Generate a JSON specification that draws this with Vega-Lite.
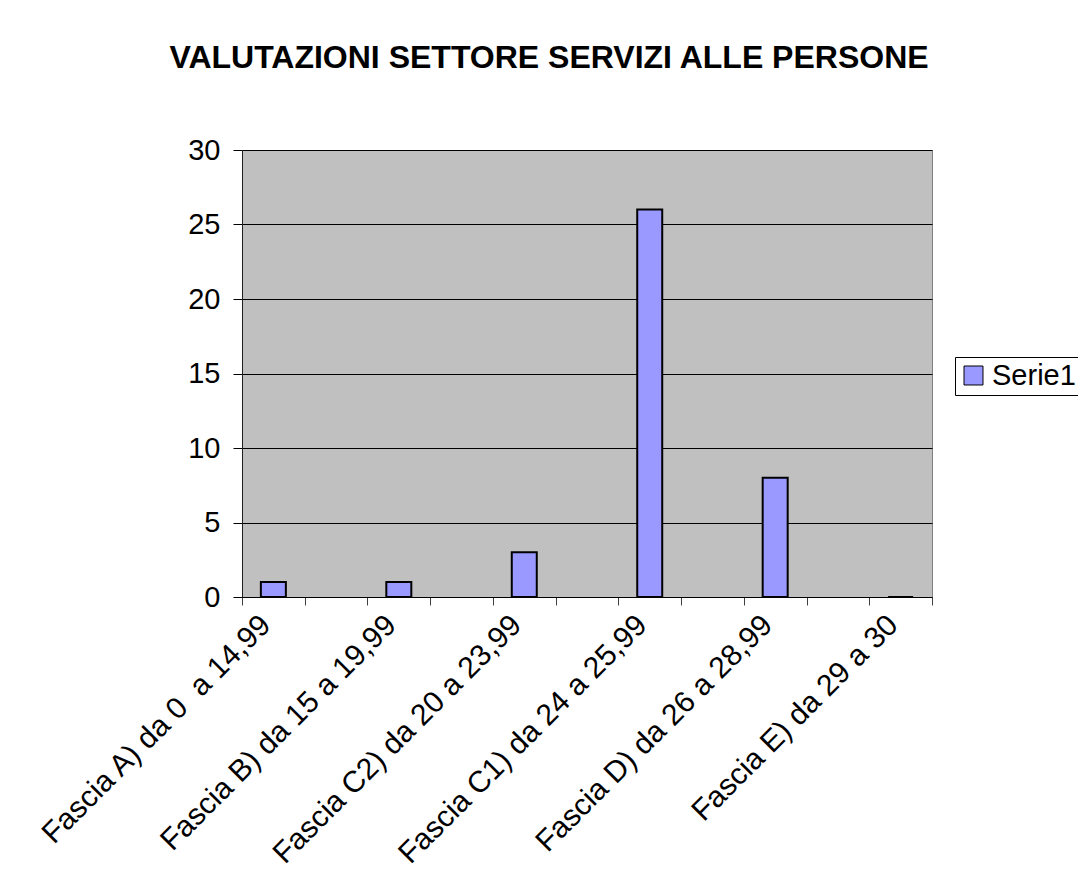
{
  "$schema": "https://vega.github.io/schema/vega-lite/v6.json",
  "width": 690,
  "height": 447,
  "autosize": "none",
  "padding": {"left": 242, "top": 150, "right": 146, "bottom": 299},
  "background": "white",
  "title": {
    "text": "VALUTAZIONI SETTORE SERVIZI ALLE PERSONE",
    "font": "Liberation Sans",
    "fontSize": 32,
    "fontWeight": "bold",
    "color": "black",
    "anchor": "middle",
    "baseline": "alphabetic",
    "offset": 36,
    "dx": -38
  },
  "config": {
    "view": {"fill": "#C0C0C0", "stroke": "#808080", "strokeWidth": 1},
    "font": "Liberation Sans"
  },
  "data": {
    "values": [
      {"fascia": "Fascia A) da 0\u00a0 a 14,99", "valore": 1, "serie": "Serie1"},
      {"fascia": "Fascia B) da 15 a 19,99", "valore": 1, "serie": "Serie1"},
      {"fascia": "Fascia C2) da 20 a 23,99", "valore": 3, "serie": "Serie1"},
      {"fascia": "Fascia C1) da 24 a 25,99", "valore": 26, "serie": "Serie1"},
      {"fascia": "Fascia D) da 26 a 28,99", "valore": 8, "serie": "Serie1"},
      {"fascia": "Fascia E) da 29 a 30", "valore": 0, "serie": "Serie1"}
    ]
  },
  "mark": {"type": "bar", "width": 25, "stroke": "black", "strokeWidth": 2},
  "encoding": {
    "x": {
      "field": "fascia",
      "type": "nominal",
      "scale": {
        "domain": ["Fascia A) da 0\u00a0 a 14,99", " ", "Fascia B) da 15 a 19,99", "  ", "Fascia C2) da 20 a 23,99", "   ", "Fascia C1) da 24 a 25,99", "    ", "Fascia D) da 26 a 28,99", "     ", "Fascia E) da 29 a 30"],
        "paddingInner": 0,
        "paddingOuter": 0
      },
      "axis": {
        "title": null,
        "labelAngle": -45,
        "labelAlign": "right",
        "labelBaseline": "middle",
        "labelFontSize": 30,
        "labelColor": "black",
        "labelPadding": 15,
        "labelOffset": -8,
        "labelOverlap": false,
        "labelLimit": 600,
        "tickBand": "extent",
        "tickSize": 8,
        "tickColor": "#404040",
        "domainColor": "black",
        "grid": false
      }
    },
    "y": {
      "field": "valore",
      "type": "quantitative",
      "scale": {"domain": [0, 30], "nice": false},
      "axis": {
        "title": null,
        "values": [0, 5, 10, 15, 20, 25, 30],
        "labelFontSize": 29,
        "labelColor": "black",
        "labelPadding": 13,
        "tickSize": 9,
        "tickColor": "black",
        "domainColor": "#202020",
        "grid": true,
        "gridColor": "black",
        "gridOpacity": 1
      }
    },
    "color": {
      "field": "serie",
      "type": "nominal",
      "scale": {"range": ["#9999FF"]},
      "legend": {
        "title": null,
        "orient": "none",
        "legendX": 713,
        "legendY": 207,
        "strokeColor": "black",
        "fillColor": "white",
        "padding": 4,
        "symbolType": "square",
        "symbolSize": 360,
        "symbolStrokeColor": "black",
        "symbolStrokeWidth": 1,
        "symbolOpacity": 1,
        "labelFontSize": 29,
        "labelColor": "black"
      }
    }
  }
}
